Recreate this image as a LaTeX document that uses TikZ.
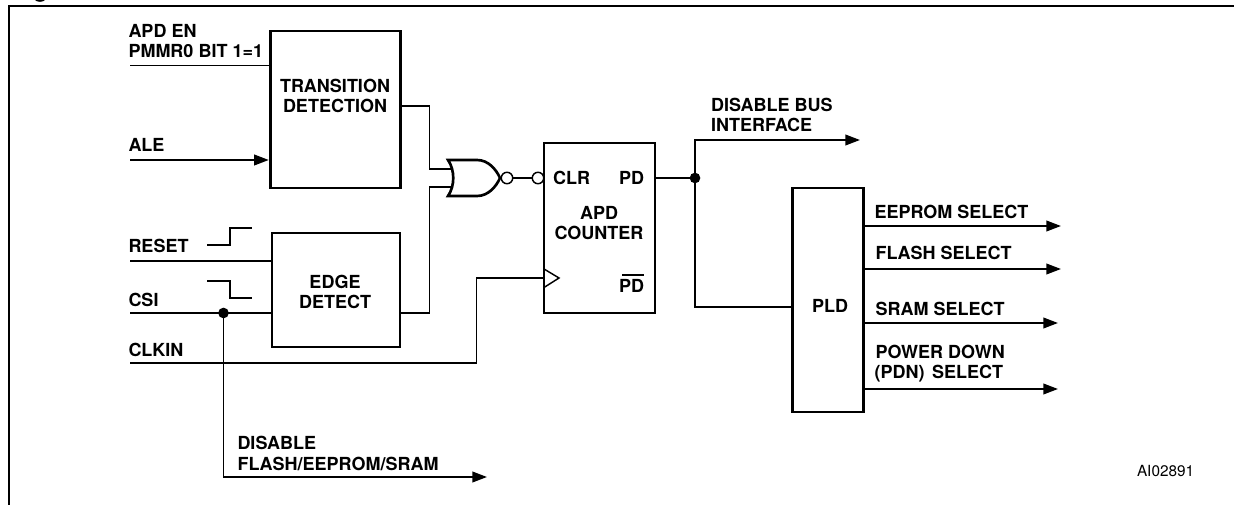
\documentclass[tikz,border=0pt]{standalone}
\usepackage{fontspec}
\setmainfont{TeX Gyre Heros}
\usetikzlibrary{arrows.meta,calc}
\tikzset{
  blk/.style={draw=black,line width=2.2pt,inner sep=0pt,outer sep=0pt,fill=white},
  wire/.style={draw=black,line width=1.35pt,line join=miter},
  arrowwire/.style={wire,-{Triangle[length=11pt,width=8pt]}},
  lab/.style={anchor=base west,inner sep=0pt,outer sep=0pt,font=\fontsize{13.5}{15}\selectfont\bfseries},
  labc/.style={lab,anchor=base},
  labr/.style={lab,anchor=base east},
  bub/.style={circle,draw=black,line width=1.1pt,minimum size=8.6pt,inner sep=0pt,outer sep=0pt,fill=white},
  dot/.style={circle,fill=black,minimum size=8pt,inner sep=0pt,outer sep=0pt},
  stepline/.style={draw=black,line width=2pt},
  framing/.style={draw=black,line width=2.2pt},
}
\begin{document}
\begin{tikzpicture}[x=0.75pt,y=-0.75pt]
\useasboundingbox (0,0) rectangle (1234,505);
% frame
\coordinate (frA) at (9,505); \coordinate (frB) at (9,6); \coordinate (frC) at (1234,6);
\draw[framing] (frA) -- (frB) -- (frC);
\fill[black] (35,0) .. controls (37,2.4) and (43,2.4) .. (45,0) -- cycle;
% free ends
\coordinate (inapd) at (130,65.5);
\coordinate (inale) at (130,160);
\coordinate (inres) at (130,261);
\coordinate (incsi) at (130,313);
\coordinate (inclk) at (130,363);
\coordinate (g1) at (452.5,169);
\coordinate (g2) at (452.5,187);
\coordinate (clkt) at (544,278);
\coordinate (xt) at (429.5,106);
\coordinate (xc) at (476.5,363);
\coordinate (o0) at (860,140);
\coordinate (o1) at (1061,226);
\coordinate (o2) at (1061,269);
\coordinate (o3) at (1058,323);
\coordinate (o4) at (1058,389);
\coordinate (o5) at (487,477);
\coordinate (plin) at (792,307);
% blocks
\node[blk,minimum width=97.1pt,minimum height=117.75pt] (trans) at (335.5,109.5) {};
\node[blk,minimum width=96pt,minimum height=85.5pt] (edge) at (336,290) {};
\node[blk,minimum width=83.25pt,minimum height=127.5pt] (apd) at (599.5,228) {};
\node[blk,minimum width=52.9pt,minimum height=168pt] (pld) at (828,300) {};
% gate
\draw[draw=black,line width=2pt,line join=miter,fill=white] (448,160) -- (477,160) .. controls (488,160) and (496,169) .. (500,178) .. controls (496,187) and (488,196) .. (477,196) -- (448,196) .. controls (455,186) and (455,170) .. cycle;
\node[bub] (b1) at (507,178) {};
\node[bub] (b2) at (538,178) {};
\draw[wire] (b1) -- (b2);
% clock mark
\coordinate (ck1) at (544,269); \coordinate (ck2) at (559,278); \coordinate (ck3) at (544,287.5);
\draw[draw=black,line width=1.1pt] (ck1) -- (ck2) -- (ck3);
% inputs
\draw[wire] (inapd) -- (inapd -| trans.west);
\draw[arrowwire] (inale) -- ($(inale -| trans.west)+(-2,0)$);
\draw[wire] (inres) -- (inres -| edge.west);
\draw[wire] (incsi) -- (incsi -| edge.west);
\draw[wire] (inclk) -- (xc) -- (xc |- clkt) -- (clkt);
% gate inputs
\draw[wire] (trans.east |- xt) -- (xt) -- (xt |- g1) -- (g1);
\draw[wire] (edge.east |- incsi) -- (xt |- incsi) -- (xt |- g2) -- (g2);
% junctions and outputs
\node[dot] (jcsi) at (223.5,313) {};
\node[dot] (jpd) at (695,178) {};
\draw[wire] (apd.east |- jpd) -- (jpd);
\draw[arrowwire] (jpd) -- (jpd |- o0) -- (o0);
\draw[wire] (jpd) -- (jpd |- plin) -- (plin -| pld.west);
\draw[arrowwire] (jcsi) -- (jcsi |- o5) -- (o5);
\draw[arrowwire] (pld.east |- o1) -- (o1);
\draw[arrowwire] (pld.east |- o2) -- (o2);
\draw[arrowwire] (pld.east |- o3) -- (o3);
\draw[arrowwire] (pld.east |- o4) -- (o4);
% step symbols
\coordinate (r1) at (207,245); \coordinate (r2) at (230,245); \coordinate (r3) at (230,228); \coordinate (r4) at (252,228);
\coordinate (c1) at (207,281); \coordinate (c2) at (230,281); \coordinate (c3) at (230,298); \coordinate (c4) at (252,298);
\draw[stepline] (r1) -- (r2) -- (r3) -- (r4);
\draw[stepline] (c1) -- (c2) -- (c3) -- (c4);
% labels
\node[lab] (l1) at (128.5,38) {APD EN};
\node[lab] (l2) at (128.5,58) {PMMR0 BIT 1=1};
\node[lab] (l3) at (128.5,152) {ALE};
\node[lab] (l4) at (128.5,253) {RESET};
\node[lab] (l5) at (128.5,307) {CSI};
\node[lab] (l6) at (128.5,357) {CLKIN};
\node[labc] (l7) at (335,93) {TRANSITION};
\node[labc] (l8) at (335,113) {DETECTION};
\node[labc] (l9) at (335,289) {EDGE};
\node[labc] (l10) at (335,309) {DETECT};
\node[lab] (l11) at (553,185) {CLR};
\node[labr] (l12) at (644,185) {PD};
\node[labc] (l13) at (599,220) {APD};
\node[labc] (l14) at (599,240) {COUNTER};
\node[labr] (l15) at (644,293) {PD};
\coordinate (bar1) at (622,275); \coordinate (bar2) at (644,275);
\draw[draw=black,line width=0.9pt] (bar1) -- (bar2);
\node[lab] (l16) at (711,112) {DISABLE BUS};
\node[lab] (l17) at (711,132) {INTERFACE};
\node[labc] (l18) at (830,313) {PLD};
\node[lab] (l19) at (874.5,219) {EEPROM SELECT};
\node[lab] (l20) at (875.5,260) {FLASH SELECT};
\node[lab] (l21) at (875.5,316) {SRAM SELECT};
\node[lab] (l22) at (875.5,359) {POWER DOWN};
\node[lab] (l23) at (874.5,379) {(PDN)\hspace{0.15em} SELECT};
\node[lab] (l24) at (237.5,450) {DISABLE};
\node[lab] (l25) at (237.5,470) {FLASH/EEPROM/SRAM};
\node[lab,font=\fontsize{11.5}{13}\selectfont] (l26) at (1137,476) {AI02891};
\end{tikzpicture}
\end{document}
